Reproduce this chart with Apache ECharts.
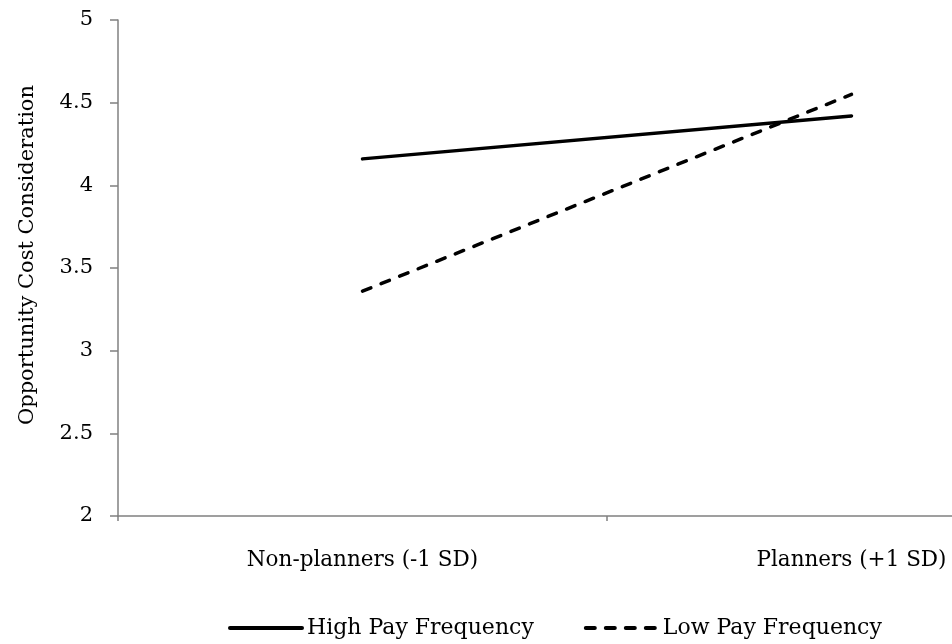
<!DOCTYPE html>
<html>
<head>
<meta charset="utf-8">
<script src="https://cdn.jsdelivr.net/npm/echarts@6/dist/echarts.min.js"></script>
<style>html,body{margin:0;padding:0;background:#fff;overflow:hidden;width:952px;height:644px}#c{width:1096px;height:644px}</style>
</head>
<body>
<div id="c"></div>
<script>
const categories = ["Non-planners (-1 SD)", "Planners (+1 SD)"];
const highPay = [4.16, 4.42];
const lowPay = [3.36, 4.55];
const seriesNames = ["High Pay Frequency", "Low Pay Frequency"];
const yTitle = "Opportunity Cost Consideration";

const FONT = "DejaVu Serif";
const chart = echarts.init(document.getElementById('c'), null, {renderer: 'canvas'});
chart.setOption({
  backgroundColor: '#fff',
  animation: false,
  grid: {left: 118, top: 20, bottom: 128, right: 0},
  legend: {
    left: 223, top: 612,
    itemWidth: 72, itemHeight: 14, itemGap: 50,
    itemStyle: {opacity: 0},
    lineStyle: {width: 4},
    textStyle: {fontFamily: FONT, fontSize: 22, color: '#000'},
    data: seriesNames
  },
  xAxis: {
    type: 'category',
    data: categories,
    boundaryGap: true,
    axisLine: {lineStyle: {color: '#808080', width: 1.5}},
    axisTick: {show: true, length: 5, lineStyle: {color: '#808080', width: 1.5}},
    axisLabel: {margin: 33, fontFamily: FONT, fontSize: 21.5, color: '#000'},
    splitLine: {show: false}
  },
  yAxis: {
    type: 'value',
    min: 2, max: 5, interval: 0.5,
    name: yTitle,
    nameLocation: 'middle',
    nameRotate: 90,
    nameGap: 80,
    nameTextStyle: {fontFamily: FONT, fontSize: 21, color: '#000', padding: [0, 0, 0, 26]},
    axisLine: {show: true, lineStyle: {color: '#808080', width: 1.5}},
    axisTick: {show: true, length: 8, lineStyle: {color: '#808080', width: 1.5}},
    axisLabel: {margin: 25, fontFamily: FONT, fontSize: 21, color: '#000'},
    splitLine: {show: false}
  },
  series: [
    {
      name: seriesNames[0], type: 'line', data: highPay,
      symbol: 'none',
      lineStyle: {color: '#000', width: 3.5, cap: 'round'},
      itemStyle: {color: '#000'}
    },
    {
      name: seriesNames[1], type: 'line', data: lowPay,
      symbol: 'none',
      lineStyle: {color: '#000', width: 3.5, type: [9, 11], cap: 'round'},
      itemStyle: {color: '#000'}
    }
  ]
});
</script>
</body>
</html>
